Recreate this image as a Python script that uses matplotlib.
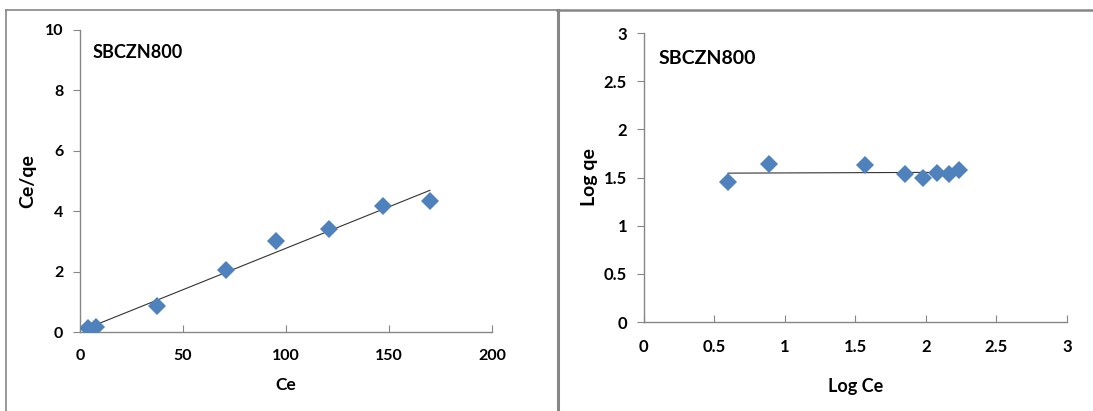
import matplotlib.pyplot as plt
import numpy as np
from matplotlib.lines import Line2D

# Langmuir plot data (SBCZN800)
ce = [3.7, 8.0, 37.2, 71.0, 95.2, 121.0, 147.0, 169.8]
ce_qe = [0.12, 0.15, 0.87, 2.06, 3.01, 3.42, 4.17, 4.35]

# Freundlich plot data
log_ce = [0.597, 0.89, 1.57, 1.85, 1.98, 2.08, 2.166, 2.237]
log_qe = [1.45, 1.645, 1.625, 1.535, 1.49, 1.545, 1.54, 1.58]

left_xticks = [0, 50, 100, 150, 200]
left_yticks = [0, 2, 4, 6, 8, 10]
right_ticks = [0, 0.5, 1, 1.5, 2, 2.5, 3]

blue = '#4F81BD'
grey = '#868686'
font = 'Lato'

fig = plt.figure(figsize=(10.93, 4.11), dpi=100)

ax1 = fig.add_axes([0.0732, 0.1922, 0.377, 0.735])
ax2 = fig.add_axes([0.589, 0.2165, 0.3872, 0.7032])


def style(ax, fs):
    for s in ['top', 'right']:
        ax.spines[s].set_visible(False)
    for s in ['left', 'bottom']:
        ax.spines[s].set_color(grey)
        ax.spines[s].set_linewidth(1)
    ax.tick_params(axis='x', direction='in', length=5, color=grey, pad=12)
    ax.tick_params(axis='y', direction='out', length=5, color=grey, pad=7)
    for lab in ax.get_xticklabels() + ax.get_yticklabels():
        lab.set_fontfamily(font)
        lab.set_fontweight('bold')
        lab.set_fontsize(fs)


# left panel
p = np.polyfit(ce, ce_qe, 1)
xs = np.array([ce[0], ce[-1]])
ax1.plot(xs, np.polyval(p, xs), color='#333333', lw=0.8, zorder=2)
ax1.plot(ce, ce_qe, 'D', color=blue, markersize=9, markeredgewidth=0, zorder=3)
ax1.set_xlim(0, 200)
ax1.set_ylim(0, 10)
ax1.set_xticks(left_xticks)
ax1.set_yticks(left_yticks)
style(ax1, 11.5)
ax1.set_xlabel('Ce', fontfamily=font, fontweight='bold', fontsize=12.5, labelpad=10)
ax1.set_ylabel('Ce/qe', fontfamily=font, fontweight='bold', fontsize=14, labelpad=6)
ax1.text(0.03, 0.955, 'SBCZN800', transform=ax1.transAxes, fontfamily=font,
         fontweight='bold', fontsize=13, va='top')

# right panel
p2 = np.polyfit(log_ce, log_qe, 1)
xs2 = np.array([log_ce[0], log_ce[-1]])
ax2.plot(xs2, np.polyval(p2, xs2), color='#333333', lw=0.8, zorder=2)
ax2.plot(log_ce, log_qe, 'D', color=blue, markersize=9, markeredgewidth=0, zorder=3)
ax2.set_xlim(0, 3)
ax2.set_ylim(0, 3)
ax2.set_xticks(right_ticks)
ax2.set_yticks(right_ticks)
ax2.set_xticklabels([f'{t:g}' for t in right_ticks])
ax2.set_yticklabels([f'{t:g}' for t in right_ticks])
style(ax2, 12)
ax2.set_xlabel('Log Ce', fontfamily=font, fontweight='bold', fontsize=13, labelpad=17)
ax2.set_ylabel('Log qe', fontfamily=font, fontweight='bold', fontsize=14, labelpad=4)
ax2.text(0.035, 0.94, 'SBCZN800', transform=ax2.transAxes, fontfamily=font,
         fontweight='bold', fontsize=14, va='top')

# panel frames
fw, fh = 1093, 411
def fline(x0, y0, x1, y1, lw):
    fig.add_artist(Line2D([x0 / fw, x1 / fw], [1 - y0 / fh, 1 - y1 / fh],
                          color=grey, lw=lw, transform=fig.transFigure))

fline(6, 10.5, 557, 10.5, 1.2)
fline(6, 10.5, 6, 411, 1.2)
fline(557.5, 10.5, 557.5, 411, 2.2)
fline(557, 10.5, 1093, 10.5, 1.8)

fig.savefig('out.png', dpi=100)
